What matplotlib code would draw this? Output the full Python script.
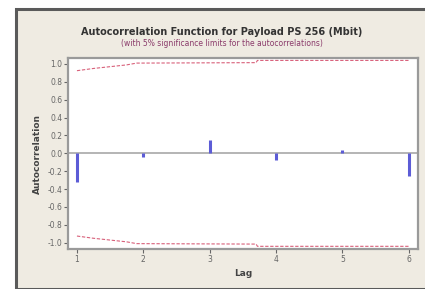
"""Minitab-style ACF plot for Payload PS 256 (Mbit)."""
import matplotlib

matplotlib.use("Agg")
import matplotlib.pyplot as plt
from matplotlib.patches import Rectangle

# autocorrelations per lag
lags = [1, 2, 3, 4, 5, 6]
acf = [-0.32, -0.04, 0.15, -0.07, 0.04, -0.25]

# 5% significance limits (upper; lower is the mirror)
lim_lag = [1.0, 1.25, 1.5, 1.75, 1.9, 3.7, 3.72, 6.0]
lim_val = [0.925, 0.95, 0.97, 0.99, 1.01, 1.015, 1.04, 1.04]

yticks = [1.0, 0.8, 0.6, 0.4, 0.2, 0.0, -0.2, -0.4, -0.6, -0.8, -1.0]

W, H = 425, 289
fig = plt.figure(figsize=(W / 100, H / 100), dpi=100)
fig.patch.set_facecolor("white")

# beige panel with dark frame
panel = Rectangle((16 / W, 0), 1.2, (H - 9) / H, transform=fig.transFigure,
                  facecolor="#efebe2", edgecolor="#5a5a5a", linewidth=2.2, zorder=-5)
fig.patches.append(panel)

ax = fig.add_axes([68 / W, 40 / H, 350 / W, 191 / H], zorder=2)
ax.set_facecolor("white")

ax.axhline(0, color="#b4b4b4", linewidth=1.4, zorder=1)
ax.vlines(lags, 0, acf, color="#5c5cd6", linewidth=2.2, zorder=3)

ax.plot(lim_lag, lim_val, color="#d8607a", linewidth=0.8, linestyle=(0, (3, 1.5)), zorder=2)
ax.plot(lim_lag, [-v for v in lim_val], color="#d8607a", linewidth=0.8,
        linestyle=(0, (3, 1.5)), zorder=2)

ax.set_xlim(0.865, 6.14)
ax.set_ylim(-1.07, 1.067)
ax.set_xticks(lags)
ax.set_yticks(yticks)
ax.set_yticklabels([f"{v:.1f}" for v in yticks])
ax.tick_params(labelsize=5.5, colors="#666666", length=3, width=0.8, pad=1)

for s in ax.spines.values():
    s.set_color("#9a9a9a")
    s.set_linewidth(1.6)

ax.set_xlabel("Lag", fontsize=6.5, fontweight="bold", color="#444444", labelpad=4)
ax.set_ylabel("Autocorrelation", fontsize=6.5, fontweight="bold", color="#444444", labelpad=4)

fig.text(222 / W, 1 - 32 / H, "Autocorrelation Function for Payload PS 256 (Mbit)",
         ha="center", va="center", fontsize=7, fontweight="bold", color="#333333")
fig.text(222 / W, 1 - 44 / H, "(with 5% significance limits for the autocorrelations)",
         ha="center", va="center", fontsize=5.5, color="#8a3a6a")

fig.savefig("out.png", dpi=100)
